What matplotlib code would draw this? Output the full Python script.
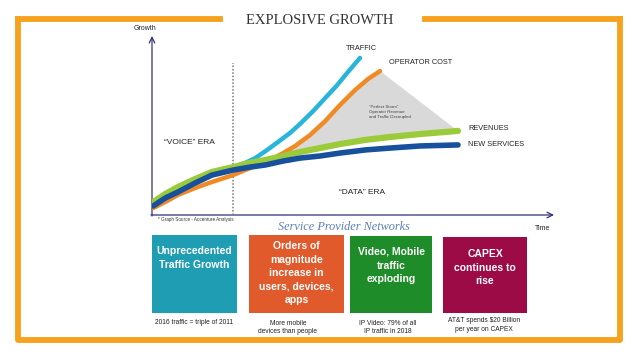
import matplotlib.pyplot as plt
from matplotlib.patches import Rectangle

# curve data (time 0-100, growth 0-100)
t_traffic = [0.3, 3.3, 6.5, 10.8, 15, 20.3, 23.3, 25.8, 28.8, 31.5, 34.5, 37, 40.3, 43.3, 46.3, 49, 52]
traffic = [5.8, 9.8, 14.5, 19.7, 24.3, 27.7, 30.1, 32.9, 37.6, 42.2, 47.4, 52.6, 60.1, 67.6, 75.1, 82.7, 90.8]

t_cost = [0.3, 3.3, 6.5, 10.8, 15, 20.3, 23.3, 26.5, 29.5, 32.8, 35.8, 39.5, 43.3, 47, 50.8, 54, 57]
cost = [4.0, 7.5, 11.6, 15.6, 19.1, 23.1, 26.0, 28.9, 31.8, 35.8, 39.9, 46.2, 54.3, 63.6, 72.3, 78.6, 83.2]

t_rev = [0.3, 3.3, 6.5, 10.8, 15, 20.3, 24.5, 28.3, 32.8, 37, 42, 47, 53.3, 59.5, 67, 76.5]
revenues = [7.5, 12.1, 16.2, 20.8, 24.9, 27.7, 30.1, 31.8, 34.1, 36.4, 38.7, 41.0, 43.4, 45.1, 46.8, 48.6]

t_new = [0.3, 3.3, 6.5, 10.8, 15, 20.3, 24.5, 28.3, 32.8, 37, 42, 47, 53.3, 59.5, 67, 76.5]
new_services = [5.2, 9.8, 13.3, 18.5, 23.1, 26.0, 27.7, 28.9, 31.2, 32.9, 34.1, 35.8, 37.6, 38.7, 39.9, 40.5]

era_split = 20.3

box_titles = ['Unprecedented\nTraffic Growth',
              'Orders of\nmagnitude\nincrease in\nusers, devices,\napps',
              'Video, Mobile\ntraffic\nexploding',
              'CAPEX\ncontinues to\nrise']
box_notes = ['2016 traffic = triple of 2011',
             'More mobile\ndevices than people',
             'IP Video: 79% of all\nIP traffic in 2018',
             'AT&T spends $20 Billion\nper year on CAPEX']
box_colors = ['#1f9db3', '#e05a2c', '#1e8c28', '#9c0b45']

W, H = 638, 359
fig = plt.figure(figsize=(W / 100, H / 100), dpi=100)
plt.rcParams['font.family'] = ['Liberation Sans', 'DejaVu Sans']

# slide layer in pixel units
bg = fig.add_axes([0, 0, 1, 1])
bg.set_xlim(0, W)
bg.set_ylim(H, 0)
bg.axis('off')

orange = '#f6a21e'
lw = 4.2
bg.plot([18, 18, 619.5, 619.5], [19, 339.5, 339.5, 19], color=orange, lw=lw, solid_capstyle='projecting')
bg.plot([18, 220], [19, 19], color=orange, lw=lw, solid_capstyle='projecting')
bg.plot([425, 619.5], [19, 19], color=orange, lw=lw, solid_capstyle='projecting')
bg.text(320, 20, 'EXPLOSIVE GROWTH', family='Liberation Serif', fontsize=10.5,
        ha='center', va='center', color='#333333')

# axes arrows
navy = '#2e2f7c'
bg.annotate('', xy=(152, 36), xytext=(152, 216),
            arrowprops=dict(arrowstyle='->', color=navy, lw=0.9, shrinkA=0, shrinkB=0))
bg.annotate('', xy=(554, 215), xytext=(151, 215),
            arrowprops=dict(arrowstyle='->', color=navy, lw=0.9, shrinkA=0, shrinkB=0))
bg.text(145, 29, 'Growth', fontsize=5, ha='center', va='center', color='#222222')
bg.text(543, 228, 'Time', fontsize=5, ha='center', va='center', color='#222222')
bg.text(158, 220, '* Graph Source - Accenture Analysis', fontsize=3.3, ha='left', va='center', color='#333333')
bg.text(344, 227, 'Service Provider Networks', family='Liberation Serif', style='italic',
        fontsize=8.8, ha='center', va='center', color='#5a7db8')

# chart layer
ax = fig.add_axes([152 / W, 1 - 215 / H, 400 / W, 173 / H])
ax.set_xlim(0, 100)
ax.set_ylim(0, 100)
ax.axis('off')

i0 = t_cost.index(26.5)
j0 = t_rev.index(28.3)
gx = t_cost[i0:] + t_rev[j0:][::-1]
gy = cost[i0:] + revenues[j0:][::-1]
ax.fill(gx, gy, color='#d9d9d9', zorder=1, lw=0)

ax.plot([era_split, era_split], [0, 88], color='#777777', lw=1.1, ls=(0, (1, 1.2)), zorder=2)

ax.plot(t_cost, cost, color='#f08a24', lw=3.2, solid_capstyle='round', zorder=3)
ax.plot(t_traffic, traffic, color='#28b5d9', lw=3.2, solid_capstyle='round', zorder=4)
ax.plot(t_rev, revenues, color='#9bcb3b', lw=4.5, solid_capstyle='round', zorder=5)
ax.plot(t_new, new_services, color='#17509c', lw=4.0, solid_capstyle='round', zorder=6)

ax.text(369, 112, '\u201cPerfect Storm\u201d\nOperator Revenue\nand Traffic Decoupled', fontsize=3.2,
        ha='left', va='center', color='#444444', linespacing=1.3, transform=bg.transData, zorder=7)

bg.text(361, 49, 'TRAFFIC', fontsize=5.3, ha='center', va='center', color='#222222')
bg.text(389, 63, 'OPERATOR COST', fontsize=5.3, ha='left', va='center', color='#222222')
bg.text(468, 129, 'REVENUES', fontsize=5.3, ha='left', va='center', color='#222222')
bg.text(468, 145, 'NEW SERVICES', fontsize=5.3, ha='left', va='center', color='#222222')
bg.text(189, 143, '\u201cVOICE\u201d ERA', fontsize=6, ha='center', va='center', color='#222222')
bg.text(362, 192, '\u201cDATA\u201d ERA', fontsize=6, ha='center', va='center', color='#222222')

# boxes
box_x = [152, 249, 350, 443]
box_w = [85, 95, 82, 84]
box_top = [235, 235, 236, 237]
text_top = [246, 241, 247, 249]
for k in range(4):
    bg.add_patch(Rectangle((box_x[k], box_top[k]), box_w[k], 313 - box_top[k],
                           facecolor=box_colors[k], edgecolor='none'))
    bg.text(box_x[k] + box_w[k] / 2, text_top[k], box_titles[k], fontsize=7.5, fontweight='bold',
            color='white', ha='center', va='top', linespacing=1.45)
note_x = [194, 288, 388, 484]
note_y = [322, 327.5, 327.5, 325]
for k in range(4):
    bg.text(note_x[k], note_y[k], box_notes[k], fontsize=4.8, ha='center', va='center',
            color='#222222', linespacing=1.3)

fig.savefig('out.png', dpi=100)
